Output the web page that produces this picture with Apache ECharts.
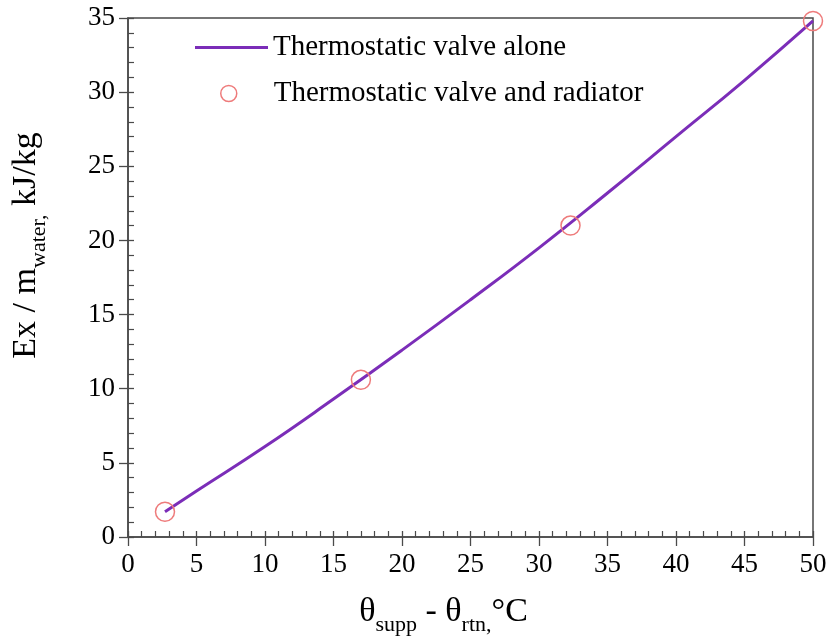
<!DOCTYPE html>
<html>
<head>
<meta charset="utf-8">
<script src="https://cdn.jsdelivr.net/npm/echarts@6/dist/echarts.min.js"></script>
<style>html,body{margin:0;padding:0;background:#fff}#c{width:829px;height:636px}</style>
</head>
<body>
<div id="c"></div>
<script>
const lineX = [2.7, 5, 10, 15, 20, 25, 30, 35, 40, 45, 50];
const lineY = [1.7, 3.1, 6.1, 9.3, 12.6, 16.0, 19.5, 23.2, 27.0, 30.8, 34.8];
const ptsX = [2.7, 17.0, 32.3, 50.0];
const ptsY = [1.7, 10.6, 21.0, 34.8];
const xTicks = [0, 5, 10, 15, 20, 25, 30, 35, 40, 45, 50];
const yTicks = [0, 5, 10, 15, 20, 25, 30, 35];
const seriesNames = ['Thermostatic valve alone', 'Thermostatic valve and radiator'];

const FONT = "'Liberation Serif','Times New Roman',serif";
const AX = '#4a4a4a';
const LINE_C = '#7B2DB8';
const PT_C = '#EE7B7B';
const chart = echarts.init(document.getElementById('c'));

const nameRich = {
  n: { fontFamily: FONT, fontSize: 34, color: '#000', lineHeight: 38, verticalAlign: 'bottom' },
  s: { fontFamily: FONT, fontSize: 22, color: '#000', lineHeight: 22, verticalAlign: 'bottom', padding: [0, 0, -7, 0] }
};

function xAx(main) {
  return {
    type: 'value', min: xTicks[0], max: xTicks[xTicks.length - 1], interval: 5,
    position: 'bottom',
    axisLine: { show: main, onZero: false, lineStyle: { color: AX, width: 1.5 } },
    axisTick: { show: true, inside: !main, length: main ? 9 : 6, lineStyle: { color: AX, width: 1.3 } },
    minorTick: { show: !main, splitNumber: 5, length: 6, lineStyle: { color: AX, width: 1.2 } },
    splitLine: { show: false },
    axisLabel: { show: main, color: '#000', fontFamily: FONT, fontSize: 27, margin: 14 },
    name: main ? '{n|θ}{s|supp}{n| - θ}{s|rtn,}{n|°C}' : '',
    nameLocation: 'middle', nameGap: 54,
    nameTextStyle: { rich: nameRich, padding: [0, 54, 0, 0] }
  };
}
function yAx(main) {
  return {
    type: 'value', min: yTicks[0], max: yTicks[yTicks.length - 1], interval: 5,
    position: 'left',
    axisLine: { show: main, onZero: false, lineStyle: { color: AX, width: 1.5 } },
    axisTick: { show: true, inside: !main, length: main ? 9 : 6, lineStyle: { color: AX, width: 1.3 } },
    minorTick: { show: !main, splitNumber: 5, length: 6, lineStyle: { color: AX, width: 1.2 } },
    splitLine: { show: false },
    axisLabel: { show: main, color: '#000', fontFamily: FONT, fontSize: 27, margin: 13 },
    name: main ? '{n|Ex / m}{s|water,}{n| kJ/kg}' : '',
    nameLocation: 'middle', nameGap: 85, nameRotate: 90,
    nameTextStyle: { rich: nameRich, padding: [0, 0, 0, 64] }
  };
}

chart.setOption({
  animation: false,
  backgroundColor: '#fff',
  grid: { left: 128, right: 16, top: 18, bottom: 99, show: true, borderColor: AX, borderWidth: 1.5, backgroundColor: 'transparent', outerBoundsMode: 'none', containLabel: false },
  xAxis: [xAx(true), xAx(false)],
  yAxis: [yAx(true), yAx(false)],
  legend: [
    {
      left: 190, top: 28, itemWidth: 73, itemHeight: 3, icon: 'rect',
      textStyle: { fontFamily: FONT, fontSize: 29, color: '#000' },
      itemStyle: { color: LINE_C },
      data: [seriesNames[0]]
    },
    {
      left: 215, top: 74, itemWidth: 16, itemHeight: 16, icon: 'circle',
      textStyle: { fontFamily: FONT, fontSize: 29, color: '#000', padding: [0, 0, 0, 32] },
      itemStyle: { color: 'transparent', borderColor: PT_C, borderWidth: 1.5 },
      data: [seriesNames[1]]
    }
  ],
  series: [
    {
      name: seriesNames[0], type: 'line', smooth: true, symbol: 'none', clip: false,
      lineStyle: { color: LINE_C, width: 3 }, itemStyle: { color: LINE_C },
      data: lineX.map((x, i) => [x, lineY[i]]), z: 2
    },
    {
      name: seriesNames[1], type: 'scatter', symbol: 'circle', symbolSize: 19, clip: false,
      itemStyle: { color: 'transparent', borderColor: PT_C, borderWidth: 1.5, opacity: 1 },
      data: ptsX.map((x, i) => [x, ptsY[i]]), z: 3
    }
  ]
});
</script>
</body>
</html>
